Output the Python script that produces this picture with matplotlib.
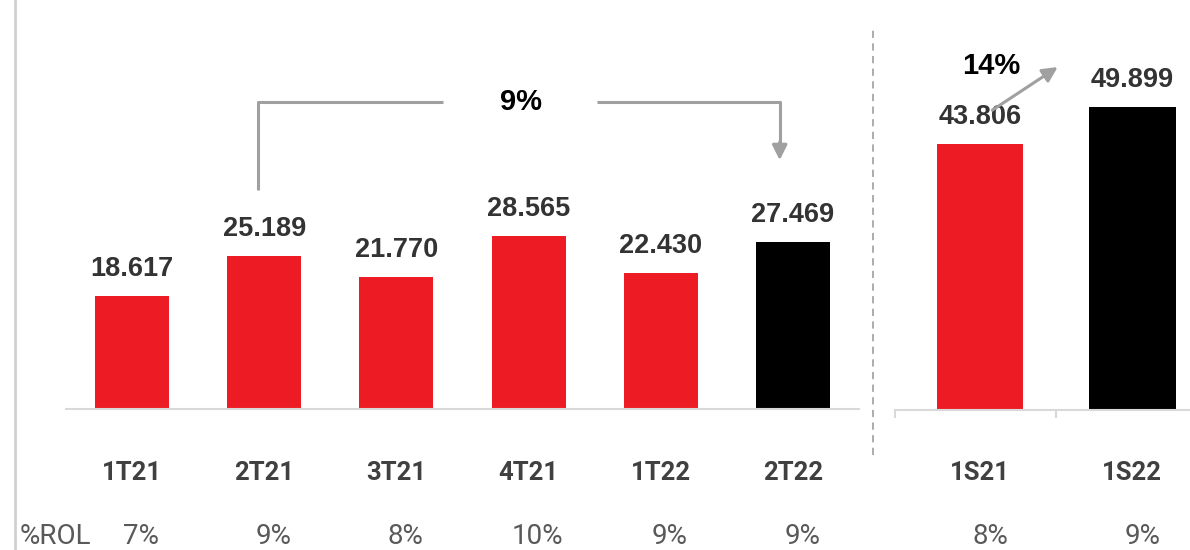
import matplotlib
matplotlib.use("Agg")
import matplotlib.pyplot as plt
from matplotlib.transforms import blended_transform_factory
from matplotlib.lines import Line2D

# ---- data ----
quarters = ["1T21", "2T21", "3T21", "4T21", "1T22", "2T22"]
quarter_values = [18.617, 25.189, 21.770, 28.565, 22.430, 27.469]
quarter_rol = ["7%", "9%", "8%", "10%", "9%", "9%"]
semesters = ["1S21", "1S22"]
semester_values = [43.806, 49.899]
semester_rol = ["8%", "9%"]
growth_quarter = "9%"
growth_semester = "14%"
rol_title = "%ROL"

RED = "#ED1C24"
BLACK = "#000000"
quarter_colors = [RED, RED, RED, RED, RED, BLACK]
semester_colors = [RED, BLACK]

NARROW = "Roboto"
MAIN = "Liberation Sans"

W, H = 1190, 550
fig = plt.figure(figsize=(W / 100, H / 100), dpi=100)
PXU = 6.07  # pixels per unit


def px_axes(x0, x1, ybase, ytop=0):
    return fig.add_axes([x0 / W, (H - ybase) / H, (x1 - x0) / W, (ybase - ytop) / H])


axL = px_axes(66, 859, 409)
axL.set_xlim(-0.5, 5.5)
axL.set_ylim(0, 409 / PXU)
axR = px_axes(895, 1190, 410)
axR.set_xlim(-0.56, 1.38)
axR.set_ylim(0, 410 / PXU)

for ax in (axL, axR):
    for s in ("top", "right", "left"):
        ax.spines[s].set_visible(False)
    ax.spines["bottom"].set_color("#D9D9D9")
    ax.spines["bottom"].set_linewidth(1.5)
    ax.set_yticks([])
    ax.patch.set_alpha(0)

axL.set_xticks([])
axR.set_xticks([-0.56, 0.5])
axR.tick_params(axis="x", length=6, width=1.5, color="#D9D9D9", labelbottom=False)

xq = list(range(len(quarters)))
xs = list(range(len(semesters)))
axL.bar(xq, quarter_values, width=0.56, color=quarter_colors)
axR.bar(xs, semester_values, width=0.57, color=semester_colors)

lab_kw = dict(ha="center", va="bottom", fontsize=19.5, fontweight="bold",
              color="#333333", family=MAIN)
for x, v in zip(xq, quarter_values):
    axL.annotate(f"{v:.3f}", (x, v), xytext=(0, 10), textcoords="offset points", **lab_kw)
for x, v in zip(xs, semester_values):
    axR.annotate(f"{v:.3f}", (x, v), xytext=(0, 10), textcoords="offset points", **lab_kw)

# category labels and %ROL row
for ax, cats, rols in ((axL, quarters, quarter_rol), (axR, semesters, semester_rol)):
    tr = blended_transform_factory(ax.transData, fig.transFigure)
    for i, (c, r) in enumerate(zip(cats, rols)):
        ax.text(i, (H - 473) / H, c, transform=tr, ha="center", va="center",
                fontsize=18.5, fontweight="bold", color="#404040", family=NARROW)
        ax.text(i + 0.07, (H - 537) / H, r, transform=tr, ha="center", va="center",
                fontsize=20, color="#595959", family=NARROW)
fig.text(20 / W, (H - 537) / H, rol_title, ha="left", va="center",
         fontsize=20, color="#595959", family=NARROW)

# left vertical line and dashed separator
fig.add_artist(Line2D([15 / W, 15 / W], [0, 1], color="#D0D0D0", lw=2))
fig.add_artist(Line2D([873 / W, 873 / W], [(H - 455) / H, (H - 30) / H],
                      color="#A6A6A6", lw=1.3, ls=(0, (4, 3))))

# bracket arrow for quarterly growth
GRAY = "#A0A0A0"
xa, xb = 0.95, 4.9
ytop, ybot, ytip = 50.6, 36.1, 41.0
axL.plot([xa, xa, 2.35], [ybot, ytop, ytop], color=GRAY, lw=2.2, solid_capstyle="butt")
axL.plot([3.52, xb, xb], [ytop, ytop, ytip + 2], color=GRAY, lw=2.2, solid_capstyle="butt")
axL.annotate("", xy=(xb, ytip), xytext=(xb, ytip + 3),
             arrowprops=dict(arrowstyle="-|>,head_length=0.9,head_width=0.45",
                             color=GRAY, lw=2.2, shrinkA=0, shrinkB=0))
axL.text(2.94, ytop, growth_quarter, ha="center", va="center", fontsize=21,
         fontweight="bold", color=BLACK, family=MAIN)

# diagonal arrow for semester growth
axR.annotate("", xy=(0.51, 56.5), xytext=(0.08, 49.4),
             arrowprops=dict(arrowstyle="-|>,head_length=0.9,head_width=0.45",
                             color=GRAY, lw=2.2, shrinkA=0, shrinkB=0))
axR.text(0.07, 56.6, growth_semester, ha="center", va="center", fontsize=21,
         fontweight="bold", color=BLACK, family=MAIN)

fig.savefig("out.png", dpi=100)
